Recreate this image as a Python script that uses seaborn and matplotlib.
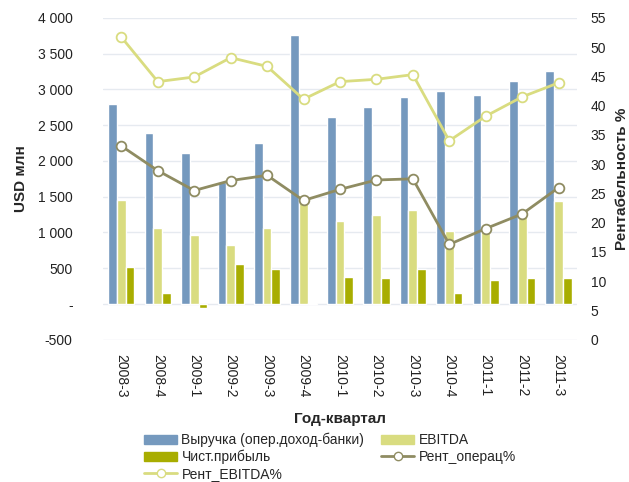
import matplotlib
matplotlib.use('Agg')
import matplotlib.pyplot as plt
import seaborn as sns
import pandas as pd
import numpy as np
from matplotlib.ticker import FuncFormatter
from matplotlib.lines import Line2D
from matplotlib.patches import Patch

quarters = ["2008-3", "2008-4", "2009-1", "2009-2", "2009-3", "2009-4", "2010-1",
            "2010-2", "2010-3", "2010-4", "2011-1", "2011-2", "2011-3"]
revenue = [2800, 2395, 2117, 1700, 2256, 3765, 2618, 2758, 2897, 2980, 2925, 3120, 3260]
ebitda = [1450, 1060, 960, 820, 1060, 1520, 1156, 1240, 1309, 1017, 1045, 1250, 1435]
net_profit = [515, 153, -50, 557, 487, 15, 376, 362, 487, 153, 334, 362, 362]
rent_ebitda = [51.7, 44.1, 44.9, 48.2, 46.7, 41.1, 44.1, 44.5, 45.3, 34.0, 38.2, 41.5, 43.9]
rent_oper = [33.1, 28.9, 25.5, 27.2, 28.1, 23.8, 25.7, 27.3, 27.5, 16.3, 19.0, 21.5, 26.0]

names = ["Выручка (опер.доход-банки)", "EBITDA", "Чист.прибыль"]
colors = ["#7599BE", "#D9DC80", "#A8AD00"]
c_oper = "#8F8C62"
c_ebitda_line = "#D9DC80"

df = pd.DataFrame({"q": quarters * 3,
                   "val": revenue + ebitda + net_profit,
                   "series": sum([[n] * len(quarters) for n in names], [])})

sns.set_style("white")
plt.rcParams['font.family'] = ['Liberation Sans', 'DejaVu Sans']

fig = plt.figure(figsize=(6.29, 4.82), dpi=100)
ax = fig.add_axes([0.164, 0.295, 0.753, 0.668])
sns.barplot(data=df, x="q", y="val", hue="series", palette=colors, width=0.72,
            ax=ax, legend=False, saturation=1)
ax.set_ylim(-500, 4000)
ax.set_yticks(np.arange(-500, 4001, 500))
ax.yaxis.set_major_formatter(FuncFormatter(
    lambda v, p: "-" if v == 0 else "{:,.0f}".format(v).replace(",", " ")))
ax.set_xlim(-0.5, len(quarters) - 0.5)
ax.grid(axis="y", color="#E6EAF0", linewidth=1)
ax.set_axisbelow(True)
for s in ax.spines.values():
    s.set_visible(False)
ax.tick_params(axis="both", length=0, labelsize=10, colors="#222222")
ax.tick_params(axis="y", pad=22)
ax.tick_params(axis="x", pad=10)
plt.setp(ax.get_xticklabels(), rotation=270)
ax.set_xlabel("Год-квартал", fontsize=11, fontweight="bold", labelpad=11)
ax.set_ylabel("USD млн", fontsize=11, fontweight="bold", labelpad=7)

ax2 = ax.twinx()
x = np.arange(len(quarters))
sns.lineplot(x=x, y=rent_ebitda, ax=ax2, color=c_ebitda_line, linewidth=2,
             marker="o", markersize=7, markerfacecolor="white",
             markeredgecolor=c_ebitda_line, markeredgewidth=1.3)
sns.lineplot(x=x, y=rent_oper, ax=ax2, color=c_oper, linewidth=2,
             marker="o", markersize=7, markerfacecolor="white",
             markeredgecolor=c_oper, markeredgewidth=1.3)
ax2.set_ylim(0, 55)
ax2.set_yticks(np.arange(0, 56, 5))
for s in ax2.spines.values():
    s.set_visible(False)
ax2.tick_params(axis="y", length=0, labelsize=10, colors="#222222", pad=10)
ax2.set_ylabel("Рентабельность %", fontsize=11, fontweight="bold", labelpad=6)
ax2.set_xlim(-0.5, len(quarters) - 0.5)

handles = [
    Patch(color=colors[0], label=names[0]),
    Patch(color=colors[2], label=names[2]),
    Line2D([], [], color=c_ebitda_line, lw=2, marker="o", ms=6, mfc="white",
           mec=c_ebitda_line, label="Рент_EBITDA%"),
    Patch(color=colors[1], label=names[1]),
    Line2D([], [], color=c_oper, lw=2, marker="o", ms=6, mfc="white",
           mec=c_oper, label="Рент_операц%"),
]
fig.legend(handles=handles, ncol=2, loc="upper left",
           bbox_to_anchor=(0.209, 0.128), bbox_transform=fig.transFigure,
           frameon=False, fontsize=10, handlelength=2.4, handleheight=0.7,
           labelspacing=0.2, columnspacing=1.2, handletextpad=0.3)

fig.savefig("out.png", dpi=100)
